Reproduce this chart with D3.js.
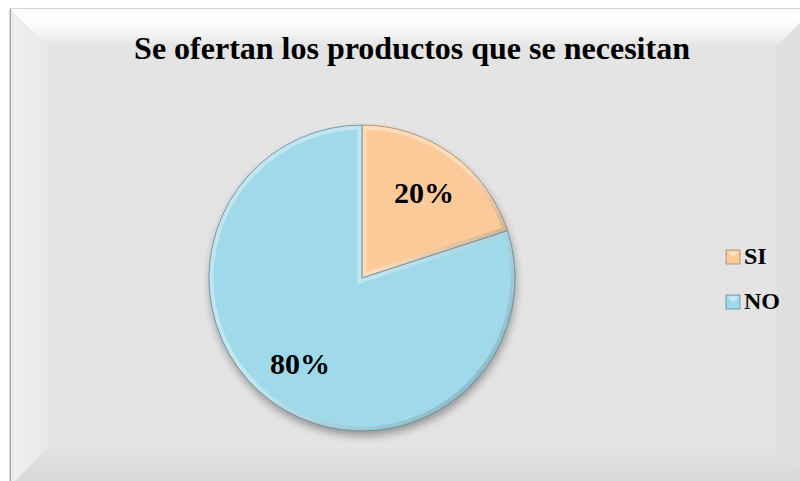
<!DOCTYPE html>
<html>
<head>
<meta charset="utf-8">
<script src="https://cdn.jsdelivr.net/npm/d3@7"></script>
<style>
  body { margin: 0; background: #fff; }
  svg { display: block; }
</style>
</head>
<body>
<script>
  // chart data
  const categories = ["SI", "NO"];
  const values = [20, 80];
  const sliceColors = ["#fcca98", "#a0d9e9"];
  const title = "Se ofertan los productos que se necesitan";

  const width = 800, height = 481;
  const svg = d3.select("body").append("svg")
    .attr("width", width)
    .attr("height", height);

  const defs = svg.append("defs");

  function linGrad(id, x1, y1, x2, y2, stops) {
    let g = defs.append("linearGradient").attr("id", id)
      .attr("x1", x1).attr("y1", y1).attr("x2", x2).attr("y2", y2);
    stops.forEach(s => g.append("stop").attr("offset", s[0]).attr("stop-color", s[1]));
  }
  linGrad("gTop", 0, 0, 0, 1, [[0, "#ffffff"], [0.45, "#fbfbfb"], [1, "#e4e4e4"]]);
  linGrad("gLeft", 0, 0, 1, 0, [[0, "#e6e6e6"], [0.15, "#efefef"], [1, "#e8e8e8"]]);
  linGrad("gBottom", 0, 0, 0, 1, [[0, "#e2e2e2"], [1, "#d6d6d6"]]);
  linGrad("gRight", 0, 0, 1, 0, [[0, "#e0e0e0"], [1, "#dcdcdc"]]);
  linGrad("gEdge", 0, 0, 1, 1, [[0, "#ffffff"], [0.5, "#ffffff"], [1, "#3a5560"]]);

  // frame with bevel
  const fx0 = 10, fy0 = 9, fx1 = 814, fy1 = 486, bw = 38;
  svg.append("rect")
    .attr("x", fx0).attr("y", fy0)
    .attr("width", fx1 - fx0).attr("height", fy1 - fy0)
    .attr("fill", "#e4e4e4")
    .attr("stroke", "#b9b9b9").attr("stroke-width", 1.2);

  const bevels = [
    { pts: [[fx0, fy0], [fx1, fy0], [fx1 - bw, fy0 + bw], [fx0 + bw, fy0 + bw]], fill: "url(#gTop)" },
    { pts: [[fx0, fy0], [fx0 + bw, fy0 + bw], [fx0 + bw, fy1 - bw], [fx0, fy1]], fill: "url(#gLeft)" },
    { pts: [[fx0, fy1], [fx0 + bw, fy1 - bw], [fx1 - bw, fy1 - bw], [fx1, fy1]], fill: "url(#gBottom)" },
    { pts: [[fx1, fy0], [fx1 - bw, fy0 + bw], [fx1 - bw, fy1 - bw], [fx1, fy1]], fill: "url(#gRight)" }
  ];
  svg.selectAll(".bevel")
    .data(bevels)
    .enter()
    .append("path")
    .attr("class", "bevel")
    .attr("d", d => "M" + d.pts.map(p => p.join(",")).join("L") + "Z")
    .attr("fill", d => d.fill);

  svg.append("line")
    .attr("x1", fx0 + 0.5).attr("y1", fy0)
    .attr("x2", fx0 + 0.5).attr("y2", height)
    .attr("stroke", "#a9a9a9");

  // title
  svg.append("text")
    .attr("x", 412)
    .attr("y", 59)
    .attr("text-anchor", "middle")
    .style("font-family", "'Liberation Serif', 'Times New Roman', serif")
    .style("font-weight", "bold")
    .style("font-size", "32px")
    .text(title);

  // pie
  const cx = 362, cy = 278, radius = 153;
  const pie = d3.pie().sort(null).value(d => d)(values);
  const arc = d3.arc().innerRadius(0).outerRadius(radius);
  const labelArc = d3.arc().innerRadius(radius * 0.69).outerRadius(radius * 0.69);

  const shadow = defs.append("filter").attr("id", "shadow")
    .attr("x", "-20%").attr("y", "-20%").attr("width", "140%").attr("height", "140%");
  shadow.append("feGaussianBlur").attr("stdDeviation", 4);

  const pieG = svg.append("g").attr("transform", "translate(" + cx + "," + cy + ")");

  pieG.append("circle")
    .attr("cx", 1).attr("cy", 5).attr("r", radius)
    .attr("fill", "#000").attr("opacity", 0.35)
    .attr("filter", "url(#shadow)");

  pie.forEach((d, i) => {
    defs.append("clipPath").attr("id", "clip" + i)
      .append("path").attr("d", arc(d));
  });

  const slices = pieG.selectAll(".slice")
    .data(pie)
    .enter()
    .append("g")
    .attr("class", "slice");

  slices.append("path")
    .attr("d", arc)
    .attr("fill", (d, i) => sliceColors[i]);

  // bevel highlight along slice edges
  slices.append("path")
    .attr("d", arc)
    .attr("fill", "none")
    .attr("clip-path", (d, i) => "url(#clip" + i + ")")
    .attr("stroke", "url(#gEdge)")
    .attr("stroke-width", 9)
    .attr("stroke-opacity", 0.35);

  slices.append("path")
    .attr("d", arc)
    .attr("fill", "none")
    .attr("stroke", (d, i) => i == 0 ? "#a98460" : "#5f8c98")
    .attr("stroke-width", 0.8);

  // data labels
  pieG.selectAll(".lbl")
    .data(pie)
    .enter()
    .append("text")
    .attr("class", "lbl")
    .attr("transform", d => "translate(" + labelArc.centroid(d) + ")")
    .attr("text-anchor", "middle")
    .attr("dy", "0.35em")
    .style("font-family", "'Liberation Serif', 'Times New Roman', serif")
    .style("font-weight", "bold")
    .style("font-size", "30px")
    .text(d => Math.round(d.value / d3.sum(values) * 100) + "%");

  // legend
  const legend = svg.append("g").attr("transform", "translate(726, 250)");
  const items = legend.selectAll(".item")
    .data(categories)
    .enter()
    .append("g")
    .attr("class", "item")
    .attr("transform", (d, i) => "translate(0," + i * 45 + ")");

  items.append("rect")
    .attr("width", 14).attr("height", 14)
    .attr("fill", (d, i) => sliceColors[i])
    .attr("stroke", (d, i) => i == 0 ? "#a98460" : "#5f8c98")
    .attr("stroke-width", 0.8);

  items.append("path")
    .attr("d", "M1.5,1.5L12.5,1.5L7,7Z")
    .attr("fill", "#fff")
    .attr("opacity", 0.45);

  items.append("text")
    .attr("x", 18)
    .attr("y", 14)
    .style("font-family", "'Liberation Serif', 'Times New Roman', serif")
    .style("font-weight", "bold")
    .style("font-size", "24px")
    .text(d => d);
</script>
</body>
</html>
